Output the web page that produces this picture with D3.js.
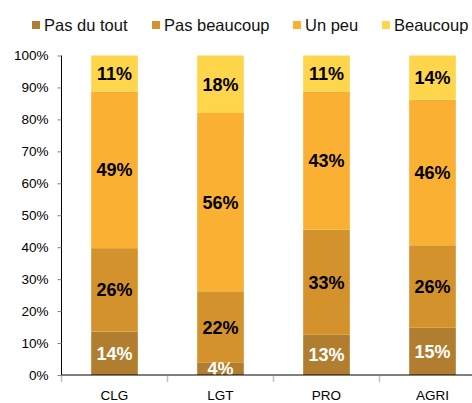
<!DOCTYPE html>
<html>
<head>
<meta charset="utf-8">
<script src="https://cdn.jsdelivr.net/npm/d3@7"></script>
<style>
  body { margin: 0; background: #fff; }
  svg { display: block; font-family: "Liberation Sans", Arial, sans-serif; }
</style>
</head>
<body>
<div id="chart"></div>
<script>
// data (percent of each group)
const categories = ["CLG", "LGT", "PRO", "AGRI"];
const seriesNames = ["Pas du tout", "Pas beaucoup", "Un peu", "Beaucoup"];
const pasDuTout   = [13.6, 3.8, 12.6, 14.8];
const pasBeaucoup = [26.1, 22.4, 32.9, 25.8];
const unPeu       = [49.0, 55.8, 43.2, 45.6];
const beaucoup    = [11.3, 18.0, 11.3, 13.8];
const yTicks = [0, 10, 20, 30, 40, 50, 60, 70, 80, 90, 100];

const colors = ["#b17d2f", "#d4922c", "#fab133", "#fed54b"];
const labelColors = ["#fff", "#000", "#000", "#000"];

const width = 472, height = 403;
const margin = { left: 61.5, top: 55.5, bottom: 375 };

const table = categories.map((c, i) => ({
    cat: c,
    "Pas du tout": pasDuTout[i],
    "Pas beaucoup": pasBeaucoup[i],
    "Un peu": unPeu[i],
    "Beaucoup": beaucoup[i]
}));

const stack = d3.stack().keys(seriesNames)(table);

const x = d3.scaleBand()
    .domain(categories)
    .range([margin.left, margin.left + 106 * 4])
    .paddingInner(0.56)
    .paddingOuter(0.28);

const y = d3.scaleLinear()
    .domain([0, 100])
    .range([margin.bottom, margin.top]);

const svg = d3.select("#chart").append("svg")
    .attr("width", width)
    .attr("height", height);

svg.append("clipPath").attr("id", "plot")
    .append("rect")
    .attr("x", margin.left).attr("y", 0)
    .attr("width", width).attr("height", margin.bottom);

// bars
const layers = svg.append("g")
    .selectAll("g")
    .data(stack)
    .join("g")
    .attr("fill", (d, i) => colors[i]);

layers.selectAll("rect")
    .data(d => d)
    .join("rect")
    .attr("x", d => x(d.data.cat))
    .attr("width", x.bandwidth())
    .attr("y", d => y(d[1]))
    .attr("height", d => y(d[0]) - y(d[1]));

// value labels
const labels = svg.append("g")
    .attr("clip-path", "url(#plot)")
    .attr("text-anchor", "middle")
    .style("font-size", "18px")
    .style("font-weight", "bold");

stack.forEach((s, i) => {
    labels.selectAll(null)
        .data(s)
        .join("text")
        .attr("x", d => x(d.data.cat) + x.bandwidth() / 2)
        .attr("y", d => (y(d[0]) + y(d[1])) / 2)
        .attr("dy", "0.36em")
        .attr("fill", labelColors[i])
        .text(d => Math.round(d[1] - d[0]) + "%");
});

// y axis
const yAxis = svg.append("g")
    .attr("transform", `translate(${margin.left},0)`)
    .call(d3.axisLeft(y).tickValues(yTicks).tickSize(4).tickFormat(d => d + "%"));
yAxis.select(".domain").attr("stroke", "#000").attr("d", `M0,${margin.top}V${margin.bottom}`);
yAxis.selectAll(".tick line").attr("stroke", "#808080");
yAxis.selectAll(".tick text")
    .attr("x", -13)
    .style("font-size", "13.5px")
    .style("font-family", "Liberation Sans, Arial, sans-serif")
    .attr("fill", "#000");

// x axis: category separators below the baseline
const sep = d3.range(categories.length).map(i => margin.left + x.step() * i);
svg.append("g")
    .selectAll("line")
    .data(sep)
    .join("line")
    .attr("x1", d => d).attr("x2", d => d)
    .attr("y1", margin.bottom + 1).attr("y2", margin.bottom + 7)
    .attr("stroke", "#c0c0c0")
    .attr("stroke-width", 1.5);

svg.append("line")
    .attr("x1", margin.left).attr("x2", width)
    .attr("y1", margin.bottom).attr("y2", margin.bottom)
    .attr("stroke", "#000");

svg.append("g")
    .attr("text-anchor", "middle")
    .style("font-size", "13.5px")
    .selectAll("text")
    .data(categories)
    .join("text")
    .attr("x", d => x(d) + x.bandwidth() / 2)
    .attr("y", 400)
    .text(d => d);

// legend
const legendX = [32, 152, 293, 382];
const legend = svg.append("g")
    .selectAll("g")
    .data(seriesNames)
    .join("g")
    .attr("transform", (d, i) => `translate(${legendX[i]},21)`);

legend.append("rect")
    .attr("width", 8).attr("height", 8)
    .attr("fill", (d, i) => colors[i]);

legend.append("text")
    .attr("x", 12).attr("y", 10)
    .style("font-size", "16.5px")
    .attr("fill", "#111")
    .text(d => d);
</script>
</body>
</html>
